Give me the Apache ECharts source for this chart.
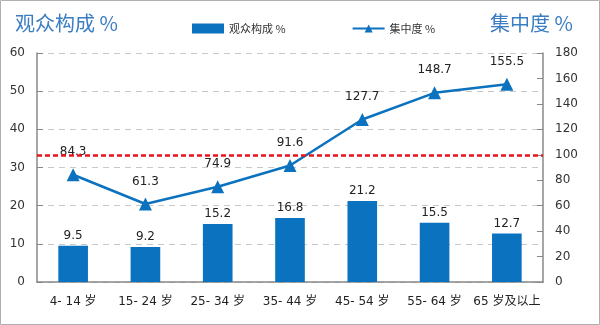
<!DOCTYPE html>
<html><head><meta charset="utf-8">
<script src="https://cdn.jsdelivr.net/npm/echarts@6/dist/echarts.min.js"></script>
<style>html,body{margin:0;padding:0;background:#fff}#c{width:600px;height:325px}</style>
</head><body><div id="c"></div>
<script>
var categories = ['4- 14 岁','15- 24 岁','25- 34 岁','35- 44 岁','45- 54 岁','55- 64 岁','65 岁及以上'];
var audienceShare = [9.5, 9.2, 15.2, 16.8, 21.2, 15.5, 12.7];
var concentration = [84.3, 61.3, 74.9, 91.6, 127.7, 148.7, 155.5];
var referenceLevel = 100;
var leftTicks = {min:0, max:60, interval:10};
var rightTicks = {min:0, max:180, interval:20};

var blue = '#0a72bf';
var font = '"DejaVu Sans", "Noto Sans CJK SC", sans-serif';
var chart = echarts.init(document.getElementById('c'), null, {renderer:'canvas'});
chart.setOption({
  animation:false,
  textStyle:{fontFamily:font},
  title:[
    {text:'观众构成 %', left:10, top:8, textStyle:{fontSize:20, fontWeight:'normal', color:'#3a7dc2', fontFamily:'"Noto Sans CJK SC", sans-serif'}},
    {text:'集中度 %', right:22, top:8, textStyle:{fontSize:20, fontWeight:'normal', color:'#3a7dc2', fontFamily:'"Noto Sans CJK SC", sans-serif'}}
  ],
  legend:{
    top:18, left:187, itemGap:66, itemWidth:32, itemHeight:10,
    textStyle:{fontSize:11, color:'#333', fontFamily:'"Noto Sans CJK SC", sans-serif'},
    data:[{name:'观众构成 %', icon:'rect'}, {name:'集中度 %'}]
  },
  graphic:[{type:'rect', shape:{x:0.5,y:0.5,width:599,height:324}, style:{fill:'none', stroke:'#b0b0b0', lineWidth:1}, silent:true}],
  grid:{left:37, right:57, top:53, bottom:43},
  xAxis:{
    type:'category', data:categories,
    axisLine:{lineStyle:{color:'#888', width:1.5}},
    axisTick:{inside:true, length:5, lineStyle:{color:'#888'}},
    axisLabel:{color:'#222', fontSize:12, margin:14, interval:0, fontFamily:font}
  },
  yAxis:[
    {type:'value', min:leftTicks.min, max:leftTicks.max, interval:leftTicks.interval,
     axisLine:{show:true, lineStyle:{color:'#888', width:1.5}},
     axisTick:{show:true, inside:true, length:6, lineStyle:{color:'#888'}},
     axisLabel:{color:'#333', fontSize:12, margin:12},
     splitLine:{show:true, lineStyle:{color:'#c8c8c8', type:[6,5]}}},
    {type:'value', min:rightTicks.min, max:rightTicks.max, interval:rightTicks.interval,
     axisLine:{show:true, lineStyle:{color:'#888', width:1.5}},
     axisTick:{show:true, inside:true, length:6, lineStyle:{color:'#888'}},
     axisLabel:{color:'#333', fontSize:12, margin:12},
     splitLine:{show:false}}
  ],
  series:[
    {name:'观众构成 %', type:'bar', data:audienceShare, barWidth:'41%', yAxisIndex:0,
     itemStyle:{color:blue},
     label:{show:true, position:'top', color:'#222', fontSize:12, distance:4}},
    {name:'集中度 %', type:'line', data:concentration, yAxisIndex:1,
     symbol:'triangle', symbolSize:13,
     lineStyle:{color:blue, width:2.5}, itemStyle:{color:blue},
     label:{show:true, position:'top', color:'#222', fontSize:12, distance:10},
     markLine:{silent:true, symbol:'none', label:{show:false},
       lineStyle:{color:'#e8141b', type:[5,3], width:2.5},
       data:[{yAxis:referenceLevel}]}}
  ]
});
</script></body></html>
